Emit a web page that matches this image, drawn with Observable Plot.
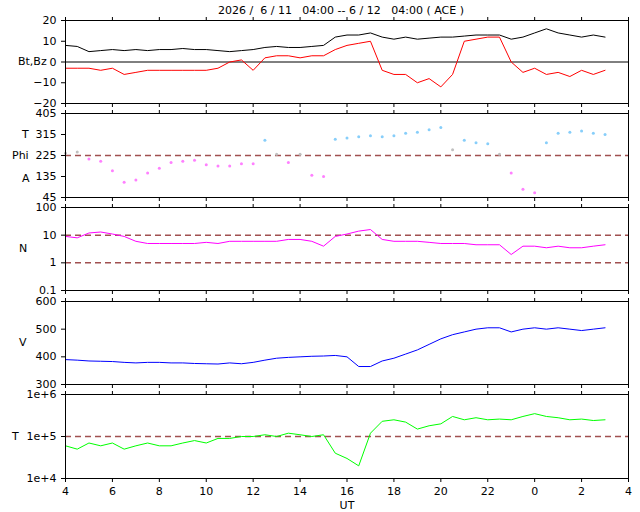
<!DOCTYPE html>
<html><head><meta charset="utf-8">
<script src="https://cdn.jsdelivr.net/npm/d3@7"></script>
<script src="https://cdn.jsdelivr.net/npm/@observablehq/plot@0.6"></script>
<style>
body{margin:0;background:#fff;font-family:"DejaVu Sans",sans-serif;}
#wrap{position:relative;width:640px;height:512px;overflow:hidden;}
.p{position:absolute;left:0;}
.lab{position:absolute;font-size:11px;color:#000;}
</style></head><body><div id="wrap"></div>
<script>
const hours = d3.range(0, 23.01, 0.5);
const bt = [8,7.5,5,5.5,6,5.5,6,5.5,6,6,6.5,6,6,5.5,5,5.5,6,7,7.5,7,7,7.5,8,12,13,13,14,12,11,12,11,11.5,12,12,12.5,13,13,13,11,12,14,16,14,13,12,13,12];
const bz = [-3,-3,-3,-4,-3,-6,-5,-4,-4,-4,-4,-4,-4,-3,0,1,-4,2,3,3,2,3,3,6,8,9,10,-4,-6,-6,-10,-8,-12,-6,10,11,12,12,0,-5,-3,-6,-5,-7,-4,-6,-4];
const phi = [235,240,210,200,160,110,120,150,170,195,200,205,185,180,180,190,190,290,230,195,230,140,135,295,300,305,310,305,310,320,325,335,345,250,290,280,275,230,150,80,65,280,320,325,330,320,315];
const dens = [9,8,12,13,11,9,6,5,5,5,5,5,5.5,5,6,6,6,6,6,7,7,6,4,9,11,14,16,7,6,6,6,5.5,5,5,5,4.5,4.5,4.5,2,4,4,3.5,4,3.5,3.5,4,4.5];
const vel = [390,388,385,384,383,380,378,380,380,378,378,376,375,374,378,375,380,388,395,398,400,402,403,405,400,365,365,385,395,410,425,445,465,480,490,500,505,505,490,500,505,500,505,500,495,500,505];
const temp = [6e4,5e4,7e4,6e4,7e4,5e4,6e4,7e4,6e4,6e4,7e4,8e4,7e4,9e4,9e4,1e5,1e5,1.1e5,1e5,1.2e5,1.1e5,1e5,1.1e5,4e4,3e4,2e4,1.2e5,2.3e5,2.5e5,2.2e5,1.5e5,1.8e5,2e5,3e5,2.5e5,2.8e5,2.5e5,2.6e5,2.5e5,3e5,3.5e5,3e5,2.8e5,2.5e5,2.6e5,2.4e5,2.5e5];
const xTicks = d3.range(0, 24.01, 2);
const xLabels = xTicks.map(h => String((h + 4) % 24));

const wrap = document.getElementById("wrap");
const ref = "#a05050";
const blank = () => "";
function panel(top, h, y, marks, last) {
  const mb = last ? 40 : 10;
  const p = Plot.plot({
    width: 640, height: h + 10 + mb,
    marginLeft: 65, marginRight: 12, marginTop: 10, marginBottom: mb,
    style: {fontFamily: "DejaVu Sans", fontSize: "11px", background: "transparent", overflow: "visible"},
    x: {domain: [0, 24], axis: null},
    y: Object.assign({axis: null}, y),
    marks: [
      ...marks,
      last
        ? Plot.axisX({ticks: xTicks, tickFormat: (d, i) => xLabels[i], tickSize: 4, label: "UT", labelAnchor: "center", labelArrow: "none", labelOffset: 30})
        : Plot.axisX({ticks: xTicks, tickFormat: blank, tickSize: 4, label: null}),
      Plot.axisX({anchor: "top", ticks: xTicks, tickFormat: blank, label: null, tickSize: 4}),
      Plot.axisY({ticks: y.ticks, tickFormat: y.tickFormat, label: null, tickSize: 4}),
      Plot.frame()
    ]
  });
  p.classList.add("p"); p.style.top = (top - 10) + "px";
  wrap.appendChild(p);
}
const D = hours.map((h, i) => ({h, bt: bt[i], bz: bz[i], phi: phi[i], n: dens[i], v: vel[i], t: temp[i]}));

panel(20, 83, {domain: [-20, 20], ticks: [-20, -10, 0, 10, 20]}, [
  Plot.ruleY([0], {stroke: "black"}),
  Plot.line(D, {x: "h", y: "bt", stroke: "black", strokeWidth: 1}),
  Plot.line(D, {x: "h", y: "bz", stroke: "red", strokeWidth: 1})
]);
panel(113, 84, {domain: [45, 405], ticks: [45, 135, 225, 315, 405]}, [
  Plot.ruleY([225], {stroke: ref, strokeDasharray: "6,4", strokeWidth: 1.5}),
  Plot.dot(D, {x: "h", y: "phi", r: 1.5, stroke: null,
    fill: d => d.phi >= 260 ? "#87cefa" : d.phi <= 215 ? "#ff80ff" : "#c0c0c0"})
]);
panel(207, 83, {type: "log", domain: [0.1, 100], ticks: [0.1, 1, 10, 100], tickFormat: d => String(d)}, [
  Plot.ruleY([1, 10], {stroke: ref, strokeDasharray: "6,4", strokeWidth: 1.5}),
  Plot.line(D, {x: "h", y: "n", stroke: "magenta", strokeWidth: 1})
]);
panel(301, 83, {domain: [300, 600], ticks: [300, 400, 500, 600]}, [
  Plot.line(D, {x: "h", y: "v", stroke: "blue", strokeWidth: 1})
]);
panel(394, 84, {type: "log", domain: [1e4, 1e6], ticks: [1e4, 1e5, 1e6], tickFormat: d => "1e+" + Math.round(Math.log10(d))}, [
  Plot.ruleY([1e5], {stroke: ref, strokeDasharray: "6,4", strokeWidth: 1.5}),
  Plot.line(D, {x: "h", y: "t", stroke: "#00ff00", strokeWidth: 1})
], true);

const labels = [["2026 /  6 / 11   04:00 -- 6 / 12   04:00 ( ACE )", 218, 4], ["Bt,Bz", 18, 55],
  ["T", 22, 128], ["Phi", 12, 149], ["A", 22, 172], ["N", 19, 242], ["V", 19, 336], ["T", 12, 430]];
for (const [t, x, y] of labels) {
  const d = document.createElement("div"); d.className = "lab"; d.textContent = t;
  d.style.left = x + "px"; d.style.top = y + "px"; d.style.whiteSpace = "pre"; wrap.appendChild(d);
}
</script></body></html>
